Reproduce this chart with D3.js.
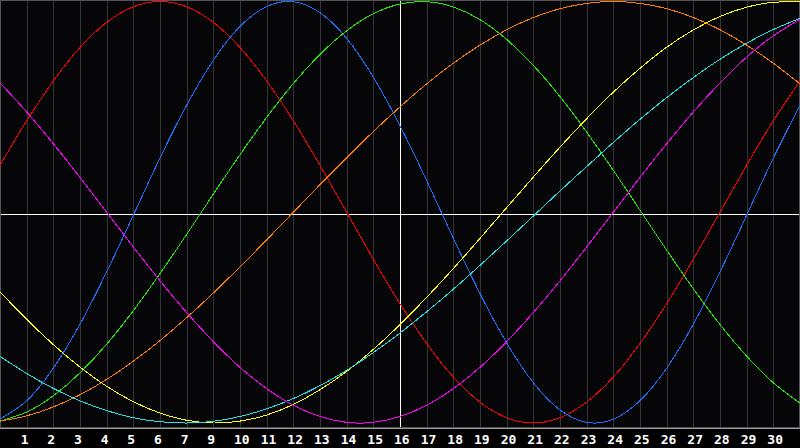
<!DOCTYPE html>
<html>
<head>
<meta charset="utf-8">
<script src="https://cdn.jsdelivr.net/npm/d3@7"></script>
<style>
  html, body { margin: 0; padding: 0; background: #000; }
  svg { display: block; }
</style>
</head>
<body>
<svg id="chart"></svg>
<script>
// day labels under the grid lines (the source skips 8)
const dayLabels = ['1', '2', '3', '4', '5', '6', '7', '9', '10', '11', '12', '13', '14', '15',
  '16', '17', '18', '19', '20', '21', '22', '23', '24', '25', '26', '27', '28', '29', '30'];

// values read at every column (0..30), range -1..1
const blue = [-0.982, -0.894, -0.740, -0.531, -0.283, -0.014, 0.257, 0.508, 0.721, 0.882, 0.976,
  0.999, 0.947, 0.825, 0.641, 0.411, 0.150, -0.123, -0.386, -0.620, -0.809, -0.938, -0.997,
  -0.982, -0.894, -0.740, -0.531, -0.283, -0.014, 0.257, 0.508];
const red = [0.223, 0.434, 0.623, 0.782, 0.901, 0.975, 1.0, 0.975, 0.901, 0.782, 0.623, 0.434,
  0.223, 0.0, -0.223, -0.434, -0.623, -0.782, -0.901, -0.975, -1.0, -0.975, -0.901, -0.782,
  -0.623, -0.434, -0.223, 0.0, 0.223, 0.434, 0.623];
const green = [-0.991, -0.948, -0.871, -0.762, -0.626, -0.467, -0.291, -0.105, 0.086, 0.273,
  0.450, 0.611, 0.749, 0.861, 0.942, 0.988, 0.999, 0.974, 0.914, 0.820, 0.697, 0.549, 0.380,
  0.199, 0.010, -0.180, -0.363, -0.533, -0.683, -0.809, -0.906];
const orange = [-0.991, -0.966, -0.924, -0.866, -0.793, -0.707, -0.609, -0.500, -0.383, -0.259,
  -0.131, 0.0, 0.131, 0.259, 0.383, 0.500, 0.609, 0.707, 0.793, 0.866, 0.924, 0.966, 0.991, 1.0,
  0.991, 0.966, 0.924, 0.866, 0.793, 0.707, 0.609];
const yellow = [-0.378, -0.508, -0.628, -0.735, -0.826, -0.899, -0.953, -0.987, -1.0, -0.991,
  -0.962, -0.912, -0.842, -0.755, -0.651, -0.533, -0.404, -0.267, -0.124, 0.022, 0.167, 0.309,
  0.444, 0.570, 0.683, 0.783, 0.865, 0.929, 0.973, 0.996, 0.998];
const cyan = [-0.684, -0.765, -0.836, -0.895, -0.941, -0.975, -0.994, -1.0, -0.992, -0.969,
  -0.933, -0.884, -0.823, -0.750, -0.666, -0.573, -0.472, -0.365, -0.252, -0.136, -0.018, 0.101,
  0.217, 0.331, 0.441, 0.544, 0.639, 0.726, 0.802, 0.867, 0.920];
const magenta = [0.614, 0.476, 0.325, 0.165, 0.0, -0.165, -0.325, -0.476, -0.614, -0.736, -0.837,
  -0.916, -0.969, -0.997, -0.997, -0.969, -0.916, -0.837, -0.736, -0.614, -0.476, -0.325, -0.165,
  0.0, 0.165, 0.325, 0.476, 0.614, 0.736, 0.837, 0.916];

const series = [
  { color: '#ff0000', values: red },
  { color: '#1f6fff', values: blue },
  { color: '#22ee00', values: green },
  { color: '#ff7f00', values: orange },
  { color: '#ffff00', values: yellow },
  { color: '#22e6e6', values: cyan },
  { color: '#ff00ff', values: magenta },
];

const width = 800;
const height = 448;
const plotH = 428;

const svg = d3.select('#chart')
  .attr('width', width)
  .attr('height', height);

svg.append('rect')
  .attr('width', width)
  .attr('height', height)
  .attr('fill', '#000');

const x = d3.scaleLinear().domain([0, 30]).range([0, width]);
const y = d3.scaleLinear().domain([-1, 1]).range([423, 1.5]);

svg.append('rect')
  .attr('x', 0.5)
  .attr('y', 0.5)
  .attr('width', width - 1)
  .attr('height', plotH - 1)
  .attr('fill', '#060609')
  .attr('stroke', '#555')
  .attr('shape-rendering', 'crispEdges');

// grid columns
const grid = svg.append('g').attr('shape-rendering', 'crispEdges');
grid.selectAll('line')
  .data(dayLabels)
  .enter()
  .append('line')
  .attr('x1', (d, i) => Math.round(x(i + 1)) + 0.5)
  .attr('x2', (d, i) => Math.round(x(i + 1)) + 0.5)
  .attr('y1', 1)
  .attr('y2', plotH - 1)
  .attr('stroke', (d, i) => (i + 1 === 15 ? '#ffffff' : '#343438'));

// horizontal midline
svg.append('line')
  .attr('x1', 1)
  .attr('x2', width - 1)
  .attr('y1', plotH / 2 + 0.5)
  .attr('y2', plotH / 2 + 0.5)
  .attr('stroke', '#fff')
  .attr('shape-rendering', 'crispEdges');

// bottom border
svg.append('line')
  .attr('x1', 0)
  .attr('x2', width)
  .attr('y1', plotH + 0.5)
  .attr('y2', plotH + 0.5)
  .attr('stroke', '#999')
  .attr('shape-rendering', 'crispEdges');

const line = d3.line()
  .x((d, i) => x(i))
  .y(d => y(d))
  .curve(d3.curveNatural);

const plot = svg.append('g');
series.forEach(s => {
  plot.append('path')
    .datum(s.values)
    .attr('d', line)
    .attr('fill', 'none')
    .attr('stroke', s.color)
    .attr('stroke-width', 1)
    .attr('shape-rendering', 'crispEdges');
});

svg.append('g')
  .selectAll('text')
  .data(dayLabels)
  .enter()
  .append('text')
  .attr('x', (d, i) => x(i + 1) - 6)
  .attr('y', 444)
  .attr('fill', '#fff')
  .style('font-family', '"DejaVu Sans Mono", monospace')
  .style('font-weight', 'bold')
  .style('font-size', '13px')
  .text(d => d);
</script>
</body>
</html>
